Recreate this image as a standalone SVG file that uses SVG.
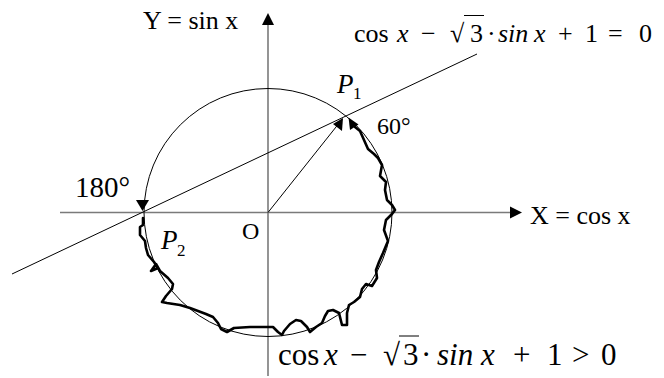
<svg xmlns="http://www.w3.org/2000/svg" width="664" height="378" viewBox="0 0 664 378">
<defs>
<style>
.t{font-family:"Liberation Serif","Times New Roman",serif;fill:#000}
.i{font-style:italic}
.axis{stroke:#7a7a7a;stroke-width:1.6;fill:none}
.thin{stroke:#000;stroke-width:1;fill:none}
.thick{stroke:#000;stroke-width:2.6;fill:none;stroke-linejoin:round;stroke-linecap:round}
.head{fill:#000;stroke:none}
</style>
</defs>
<rect width="664" height="378" fill="#fff"/>
<g id="axes">
<line class="axis" x1="60" y1="212.5" x2="512" y2="212.5"/>
<polygon class="head" points="522,212.5 510,206.5 510,218.5"/>
<line class="axis" x1="268" y1="376" x2="268" y2="24"/>
<polygon class="head" points="268,13 262,25 274,25"/>
</g>
<g id="circle">
<circle class="thin" cx="268" cy="212.5" r="124"/>
</g>
<g id="connectors">
<line class="thin" x1="12" y1="274" x2="477" y2="54"/>
<line class="thin" x1="268" y1="212.5" x2="338" y2="124.5"/>
<polygon class="head" points="343,118 333,124 342,131"/>
<polygon class="head" points="142.5,211 136,200 149,200"/>
<path class="thick" d="M355,127 L360,131 L364,140 L368,149 L374,154 L378,158 L382,165 L380,176 L386,182 L385,190 L387,200 L392,205 L395,210 L392,214 L386,220 L384,230 L388,241 L383,253 L379,262 L376,270 L377,278 L372,286 L366,284 L362,289 L360,297 L354,302 L349,305 L347,313 L347,325 L342,325 L339,313 L333,310 L328,311 L325,316 L322,323 L316,327 L310,332 L307,327 L301,321 L296,320 L290,324 L284,331 L282,335 L278,332 L273,327 L250,327 L234,328 L227,332 L221,329 L218,323 L213,317 L206,314 L190,308 L180,305 L167,303 L162,302 L166,296 L172,289 L173,284 L168,278 L160,271 L156,264 L151,271 L158,268 L154,262 L148,255 L146,248 L145,241 L140,235 L140,227 L143,225 L143,218"/>
<polygon class="head" points="348.5,117.5 350,130 358.5,124.5"/>
</g>
<g id="labels">
<text class="t" x="143" y="29" font-size="26">Y = sin x</text>
<text class="t" x="530" y="224" font-size="26">X = cos x</text>
<text class="t" x="242" y="239" font-size="24">O</text>
<text class="t" x="75" y="197" font-size="29">180°</text>
<text class="t" x="377" y="134" font-size="24">60°</text>
<text class="t" font-size="27" x="337" y="93"><tspan class="i">P</tspan><tspan font-size="17" x="353" y="99">1</tspan></text>
<text class="t" font-size="27" x="161" y="249"><tspan class="i">P</tspan><tspan font-size="17" x="177" y="256">2</tspan></text>
</g>
<g id="eq-top">
<text class="t" font-size="26" y="42"><tspan x="354">cos</tspan><tspan class="i" x="397">x</tspan><tspan x="421">−</tspan><tspan x="450">√</tspan><tspan x="470">3</tspan><tspan x="487">·</tspan><tspan class="i" x="498">sin</tspan><tspan class="i" x="534">x</tspan><tspan x="558">+</tspan><tspan x="585">1</tspan><tspan x="608">=</tspan><tspan x="639">0</tspan></text>
<line class="thin" x1="464" y1="15.5" x2="484" y2="15.5"/>
</g>
<g id="eq-bottom">
<text class="t" font-size="31" y="365"><tspan x="278">cos</tspan><tspan class="i" x="324">x</tspan><tspan x="350">−</tspan><tspan x="383">√</tspan><tspan x="403">3</tspan><tspan x="421">·</tspan><tspan class="i" x="437">sin</tspan><tspan class="i" x="481">x</tspan><tspan x="513">+</tspan><tspan x="547">1</tspan><tspan x="572">&gt;</tspan><tspan x="601">0</tspan></text>
<line class="thin" x1="399" y1="336" x2="419" y2="336"/>
</g>
</svg>
